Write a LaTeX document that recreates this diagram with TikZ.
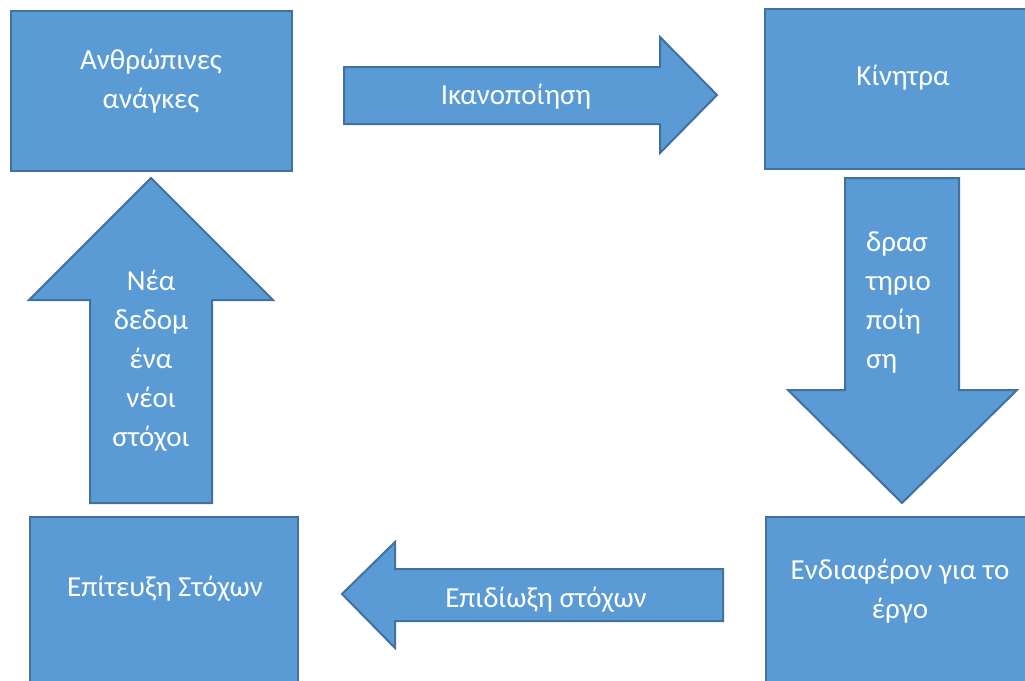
\documentclass[tikz,border=0pt]{standalone}
\usepackage{fontspec}
\setmainfont{Carlito}
\definecolor{boxfill}{HTML}{5B9BD5}
\definecolor{boxline}{HTML}{41719C}
\tikzset{
  shapestyle/.style={fill=boxfill, draw=boxline, line width=2pt, line join=miter},
  lbl/.style={text=white, font=\fontsize{29}{39}\selectfont, inner sep=0pt, align=center},
  lblleft/.style={text=white, font=\fontsize{29}{39}\selectfont, inner sep=0pt, align=left},
}
\begin{document}
\begin{tikzpicture}[x=1pt,y=-1pt]
\useasboundingbox (0,0) rectangle (1025,680);
\clip (0,0) rectangle (1025,680);
% boxes
\draw[shapestyle] (11,11) rectangle (292,171);
\node[lbl] (needs) at (151,81) {Ανθρώπινες\\ανάγκες};
\draw[shapestyle] (765,9) rectangle (1040,169);
\node[lbl] (incent) at (903,78) {Κίνητρα};
\draw[shapestyle] (766,517) rectangle (1040,700);
\node[lbl] (interest) at (900,591) {Ενδιαφέρον για το\\έργο};
\draw[shapestyle] (30,517) rectangle (298,700);
\node[lbl] (achieve) at (165,589) {Επίτευξη Στόχων};
% right arrow
\draw[shapestyle] (344,67) -- (660,67) -- (660,37) -- (717,95) -- (660,153) -- (660,124) -- (344,124) -- cycle;
\node[lbl] (satisf) at (516,97) {Ικανοποίηση};
% down arrow
\draw[shapestyle] (845,178) -- (959,178) -- (959,390) -- (1017,390) -- (902,503) -- (788,390) -- (845,390) -- cycle;
\node[lblleft, anchor=west] (activ) at (866,302) {δρασ\\τηριο\\ποίη\\ση};
% left arrow
\draw[shapestyle] (723,569) -- (395,569) -- (395,542) -- (342,594) -- (395,648) -- (395,621) -- (723,621) -- cycle;
\node[lbl] (pursue) at (546,600) {Επιδίωξη στόχων};
% up arrow
\draw[shapestyle] (90,503) -- (90,300) -- (29,300) -- (151,178) -- (273,300) -- (212,300) -- (212,503) -- cycle;
\node[lbl] (newdata) at (151,361) {Νέα\\δεδομ\\ένα\\νέοι\\στόχοι};
\end{tikzpicture}
\end{document}
